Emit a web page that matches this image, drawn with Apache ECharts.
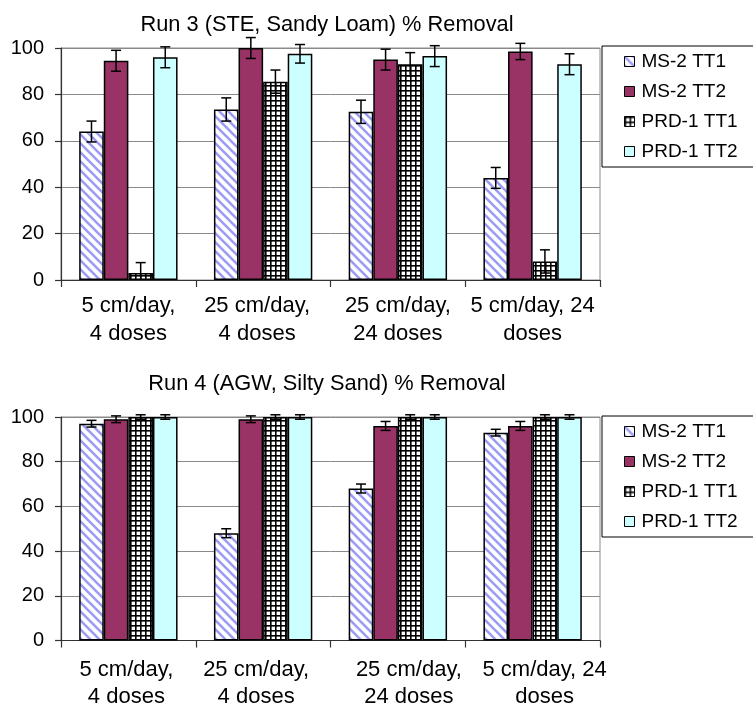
<!DOCTYPE html>
<html>
<head>
<meta charset="utf-8">
<script src="https://cdn.jsdelivr.net/npm/echarts@6/dist/echarts.min.js"></script>
<style>html,body{margin:0;padding:0;background:#fff}#c{width:753px;height:708px}</style>
</head>
<body>
<div id="c"></div>
<script>
// ---- data ----
const categories = ['5 cm/day,\n4 doses', '25 cm/day,\n4 doses', '25 cm/day,\n24 doses', '5 cm/day, 24\ndoses'];
const seriesNames = ['MS-2 TT1', 'MS-2 TT2', 'PRD-1 TT1', 'PRD-1 TT2'];
const yTicks = [0, 20, 40, 60, 80, 100];

// Run 3 (STE, Sandy Loam)
const run3_ms2tt1 = [64, 73.5, 72.5, 44];
const run3_ms2tt2 = [94.5, 100, 95, 98.5];
const run3_prd1tt1 = [3, 85.5, 93, 8];
const run3_prd1tt2 = [96, 97.5, 96.5, 93];
const run3_ms2tt1Err = [4.5, 5, 5, 4.5];
const run3_ms2tt2Err = [4.5, 4.5, 4.5, 3.5];
const run3_prd1tt1Err = [4.5, 5, 5, 5];
const run3_prd1tt2Err = [4.5, 4, 4.5, 4.5];

// Run 4 (AGW, Silty Sand)
const run4_ms2tt1 = [97, 48, 68, 93];
const run4_ms2tt2 = [99, 99, 96, 96];
const run4_prd1tt1 = [100, 100, 100, 100];
const run4_prd1tt2 = [100, 100, 100, 100];
const run4_ms2tt1Err = [1.5, 2, 2, 1.5];
const run4_ms2tt2Err = [1.5, 1.5, 2, 2];
const run4_prd1tt1Err = [1, 1, 1, 1];
const run4_prd1tt2Err = [1, 1, 1, 1];

const titles = ['Run 3 (STE, Sandy Loam) % Removal', 'Run 4 (AGW, Silty Sand) % Removal'];

// ---- styles ----
const FONT = 'Liberation Sans, Arial, Helvetica, sans-serif';
const GAP = 0.27;

function stripePattern() {
  const s = 9;
  const c = document.createElement('canvas'); c.width = s; c.height = s;
  const g = c.getContext('2d');
  g.fillStyle = '#fff'; g.fillRect(0, 0, s, s);
  g.strokeStyle = '#9c9cf6'; g.lineWidth = 2.6;
  g.beginPath();
  for (let k = -1; k <= 1; k++) { g.moveTo(-2, -2 + k * s); g.lineTo(s + 2, s + 2 + k * s); }
  g.stroke();
  return c;
}
function gridPattern() {
  const s = 5;
  const c = document.createElement('canvas'); c.width = s; c.height = s;
  const g = c.getContext('2d');
  g.fillStyle = '#fff'; g.fillRect(0, 0, s, s);
  g.fillStyle = '#000';
  g.fillRect(0, 0, s, 1.6); g.fillRect(0, 0, 1.6, s);
  return c;
}
const fills = [
  { image: stripePattern(), repeat: 'repeat' },
  '#993366',
  { image: gridPattern(), repeat: 'repeat' },
  '#ccffff'
];

// per-category label shifts (px) for each chart
const labelShift = [[0, -6, 0, 0], [-2, -7, 11, 12]];
const labelLH = [28, 27];

function barSeries(name, vals, idx, ax) {
  return {
    type: 'bar', name: name, xAxisIndex: ax, yAxisIndex: ax,
    data: vals, barGap: '0%', barCategoryGap: (GAP * 100) + '%',
    itemStyle: { color: fills[idx], borderColor: '#000', borderWidth: 1.5 },
    emphasis: { disabled: true }, z: 2
  };
}
function errSeries(name, vals, errs, idx, ax) {
  return {
    type: 'custom', name: name + ' error ' + ax, xAxisIndex: ax, yAxisIndex: ax,
    silent: true, z: 5, clip: false,
    data: vals.map((v, i) => [i, v, errs[i]]),
    encode: { x: 0, y: 1 },
    renderItem: function (params, api) {
      const ci = api.value(0), v = api.value(1), e = api.value(2);
      const catW = api.size([1, 0])[0];
      const bw = catW * (1 - GAP) / 4;
      const cx = api.coord([ci, v])[0] + (idx - 1.5) * bw;
      const lowClamped = v - e < 0;
      const yT = api.coord([ci, v + e])[1];
      const yB = api.coord([ci, Math.max(0, v - e)])[1];
      const hw = 5;
      const st = { stroke: '#000', lineWidth: 1.5 };
      const kids = [
        { type: 'line', shape: { x1: cx, y1: yT, x2: cx, y2: yB }, style: st },
        { type: 'line', shape: { x1: cx - hw, y1: yT, x2: cx + hw, y2: yT }, style: st }
      ];
      if (!lowClamped) kids.push({ type: 'line', shape: { x1: cx - hw, y1: yB, x2: cx + hw, y2: yB }, style: st });
      return { type: 'group', children: kids };
    }
  };
}

const run3 = [run3_ms2tt1, run3_ms2tt2, run3_prd1tt1, run3_prd1tt2];
const run3E = [run3_ms2tt1Err, run3_ms2tt2Err, run3_prd1tt1Err, run3_prd1tt2Err];
const run4 = [run4_ms2tt1, run4_ms2tt2, run4_prd1tt1, run4_prd1tt2];
const run4E = [run4_ms2tt1Err, run4_ms2tt2Err, run4_prd1tt1Err, run4_prd1tt2Err];

const series = [];
[run3, run4].forEach((run, ax) => {
  const errs = ax === 0 ? run3E : run4E;
  run.forEach((vals, i) => series.push(barSeries(seriesNames[i], vals, i, ax)));
  run.forEach((vals, i) => series.push(errSeries(seriesNames[i], vals, errs[i], i, ax)));
});

function xAxis(ax) {
  const rich = {};
  labelShift[ax].forEach((s, i) => {
    rich['s' + i] = { fontSize: 22, fontFamily: FONT, color: '#000', lineHeight: labelLH[ax],
      padding: s >= 0 ? [0, 0, 0, 2 * s] : [0, -2 * s, 0, 0] };
  });
  return {
    type: 'category', gridIndex: ax, data: categories, boundaryGap: true,
    axisLine: { lineStyle: { color: '#333', width: 1.2 } },
    axisTick: { show: true, length: 7, lineStyle: { color: '#333', width: 1.2 } },
    axisLabel: {
      margin: ax === 0 ? 12 : 16, interval: 0,
      formatter: function (val, i) { return val.split('\n').map(l => '{s' + i + '|' + l + '}').join('\n'); },
      rich: rich
    }
  };
}
function yAxis(ax) {
  return {
    type: 'value', gridIndex: ax, min: yTicks[0], max: yTicks[yTicks.length - 1], interval: 20,
    axisLine: { show: true, lineStyle: { color: '#333', width: 1.2 } },
    axisTick: { show: true, length: 6, lineStyle: { color: '#333', width: 1.2 } },
    axisLabel: { margin: 17, fontSize: 20, fontFamily: FONT, color: '#000' },
    splitLine: { show: true, lineStyle: { color: '#8a8a8a', width: 1 } }
  };
}
function legend(ax, top) {
  return {
    data: seriesNames, orient: 'vertical', left: 602, top: top,
    borderColor: '#000', borderWidth: 1, padding: [6, 24, 6, 22],
    itemWidth: 10, itemHeight: 10, itemGap: 11, icon: 'rect',
    selectedMode: false,
    itemStyle: { borderColor: '#000', borderWidth: 1 },
    textStyle: { fontSize: 19, fontFamily: FONT, color: '#000', padding: [0, 0, 0, 2], lineHeight: 19 }
  };
}

const chart = echarts.init(document.getElementById('c'), null, { renderer: 'canvas' });
chart.setOption({
  animation: false,
  backgroundColor: '#fff',
  title: titles.map((t, i) => ({
    text: t, left: 327, top: i === 0 ? 13.5 : 373, textAlign: 'center', padding: 0,
    textStyle: { fontSize: 21.8, fontWeight: 'normal', fontFamily: FONT, color: '#000', lineHeight: 22 }
  })),
  legend: [legend(0, 46), legend(1, 416)],
  grid: [
    { left: 61, top: 48, width: 539, height: 232, show: true, borderColor: '#8a8a8a', borderWidth: 1 },
    { left: 61, top: 417, width: 539, height: 231, show: true, borderColor: '#8a8a8a', borderWidth: 1 }
  ],
  xAxis: [xAxis(0), xAxis(1)],
  yAxis: [yAxis(0), yAxis(1)],
  series: series
});
</script>
</body>
</html>
